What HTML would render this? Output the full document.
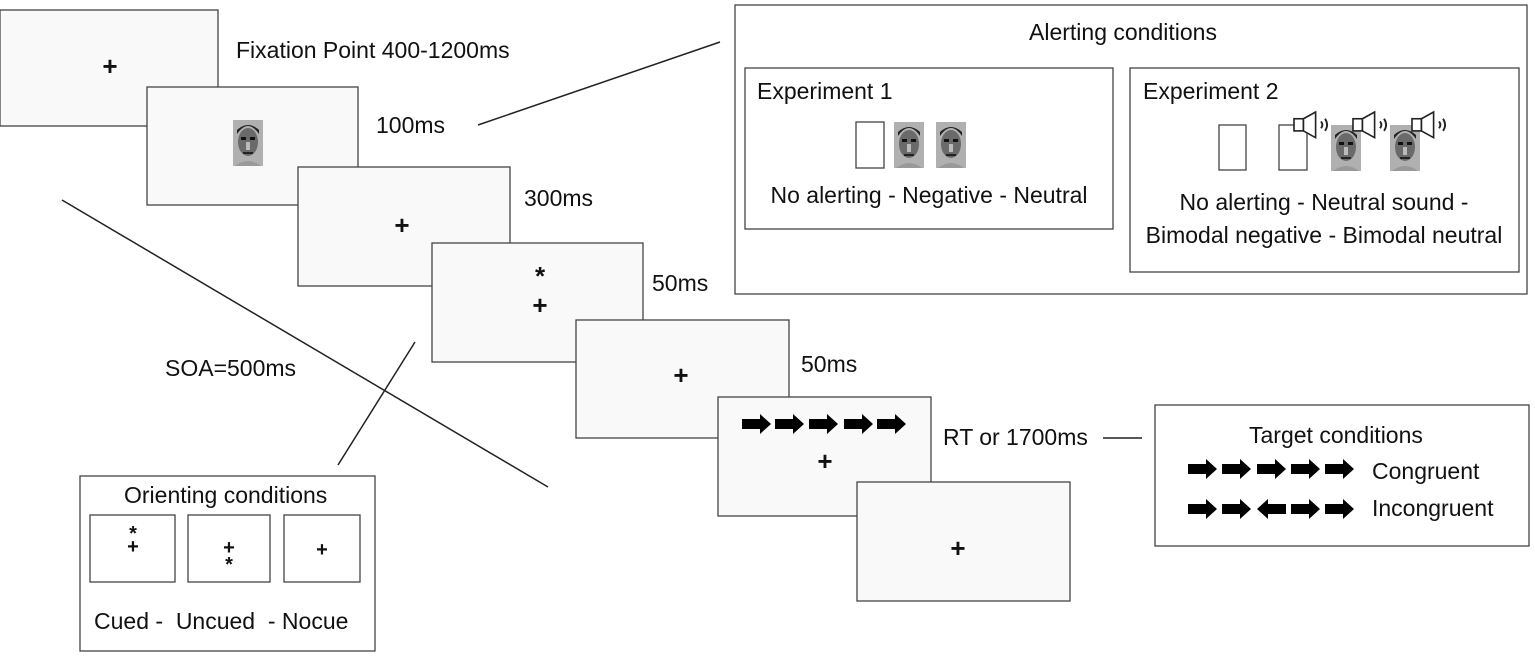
<!DOCTYPE html>
<html><head><style>
body{margin:0;background:#fff}
svg{display:block}
text{font-family:"Liberation Sans",Arial,sans-serif;fill:#111}
</style></head><body>
<svg width="1535" height="657" viewBox="0 0 1535 657" xmlns="http://www.w3.org/2000/svg">
<defs>
<g id="face">
<rect x="0" y="0" width="30" height="46" fill="#b0b0b0"/>
<ellipse cx="15" cy="22" rx="10" ry="14" fill="#6a6a6a"/>
<path d="M4 14 Q15 -2 26 14 L26 10 Q15 0 4 10Z" fill="#222"/>
<rect x="8" y="17" width="5" height="3" fill="#111"/><rect x="17" y="17" width="5" height="3" fill="#111"/>
<rect x="13" y="22" width="4" height="8" fill="#bbb"/>
<rect x="10" y="32" width="10" height="2" fill="#222"/>
<path d="M2 46 Q15 36 28 46Z" fill="#999"/>
</g>
<g id="spk">
<rect x="0" y="5" width="7" height="9" fill="#fff" stroke="#222" stroke-width="1.2"/>
<path d="M7 5 L16 0 L16 19 L7 14Z" fill="#fff" stroke="#222" stroke-width="1.2"/>
<path d="M20 7 Q22 9.5 20 12 M23 5 Q26 9.5 23 14" fill="none" stroke="#222" stroke-width="1.4"/>
</g>
<path id="arr" d="M0 -5 H18 V-10 L29 0 L18 10 V5 H0Z" fill="#000"/>
</defs>
<g fill="#f9f9f9" stroke="#444" stroke-width="1.3">
<rect x="0" y="10" width="218" height="116"/>
<rect x="147" y="87" width="211" height="118"/>
<rect x="298" y="167" width="212" height="119"/>
<rect x="432" y="243" width="211" height="119"/>
<rect x="576" y="320" width="213" height="118"/>
<rect x="718" y="397" width="213" height="119"/>
<rect x="857" y="482" width="213" height="119"/>
</g>
<g fill="#fff" stroke="#444" stroke-width="1.3">
<rect x="735" y="5" width="792" height="289"/>
<rect x="745" y="68" width="368" height="161"/>
<rect x="1130" y="68" width="389" height="204"/>
<rect x="1155" y="405" width="374" height="141"/>
<rect x="80" y="476" width="295" height="175"/>
<rect x="90" y="515" width="85" height="67"/>
<rect x="188" y="515" width="82" height="67"/>
<rect x="284" y="515" width="76" height="67"/>
<rect x="856" y="122" width="28" height="46"/>
<rect x="1219" y="125" width="27" height="45"/>
<rect x="1279" y="125" width="28" height="45"/>
</g>
<g stroke="#222" stroke-width="1.5">
<line x1="478" y1="125" x2="720" y2="42"/>
<line x1="62" y1="200" x2="548" y2="487"/>
<line x1="338" y1="465" x2="415" y2="342"/>
<line x1="1103" y1="438" x2="1142" y2="438"/>
</g>
<g font-size="26" font-weight="bold" text-anchor="middle">
<text x="110" y="75">+</text>
<text x="402" y="234">+</text>
<text x="540" y="314">+</text>
<text x="540" y="285">*</text>
<text x="681" y="384">+</text>
<text x="825" y="470">+</text>
<text x="958" y="557">+</text>
</g>
<g font-size="20" font-weight="bold" text-anchor="middle">
<text x="133" y="553">+</text><text x="133" y="540">*</text>
<text x="229" y="554">+</text><text x="229" y="571">*</text>
<text x="322" y="556">+</text>
</g>
<use href="#face" x="233" y="120"/>
<use href="#face" x="894" y="122"/>
<use href="#face" x="936" y="122"/>
<use href="#face" x="1331" y="125"/>
<use href="#face" x="1390" y="125"/>
<use href="#spk" transform="translate(1294 112) scale(1.35)"/>
<use href="#spk" transform="translate(1353 112) scale(1.35)"/>
<use href="#spk" transform="translate(1412 112) scale(1.35)"/>
<g>
<use href="#arr" x="742" y="424"/><use href="#arr" x="775" y="424"/><use href="#arr" x="809" y="424"/><use href="#arr" x="844" y="424"/><use href="#arr" x="877" y="424"/>
<use href="#arr" x="1188" y="469"/><use href="#arr" x="1222" y="469"/><use href="#arr" x="1257" y="469"/><use href="#arr" x="1291" y="469"/><use href="#arr" x="1325" y="469"/>
<use href="#arr" x="1188" y="509"/><use href="#arr" x="1222" y="509"/><use href="#arr" transform="translate(1286 509) scale(-1 1)"/><use href="#arr" x="1291" y="509"/><use href="#arr" x="1325" y="509"/>
</g>
<g font-size="23">
<text x="236" y="58">Fixation Point 400-1200ms</text>
<text x="376" y="133">100ms</text>
<text x="524" y="206">300ms</text>
<text x="652" y="291">50ms</text>
<text x="801" y="372">50ms</text>
<text x="943" y="445">RT or 1700ms</text>
<text x="165" y="376">SOA=500ms</text>
<text x="1029" y="40">Alerting conditions</text>
<text x="757" y="99">Experiment 1</text>
<text x="1143" y="99">Experiment 2</text>
<text x="929" y="203" text-anchor="middle">No alerting - Negative - Neutral</text>
<text x="1324" y="210" text-anchor="middle">No alerting - Neutral sound -</text>
<text x="1324" y="243" text-anchor="middle">Bimodal negative - Bimodal neutral</text>
<text x="1249" y="443">Target conditions</text>
<text x="1372" y="479">Congruent</text>
<text x="1372" y="516">Incongruent</text>
<text x="124" y="503">Orienting conditions</text>
<text x="94" y="629" xml:space="preserve">Cued -  Uncued  - Nocue</text>
</g>
</svg>
</body></html>
